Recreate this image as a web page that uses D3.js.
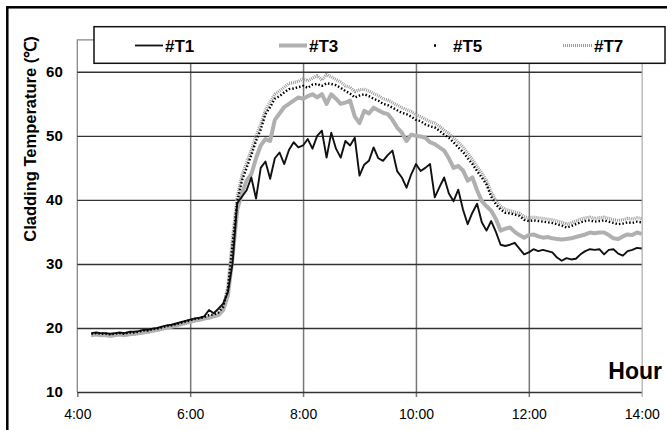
<!DOCTYPE html>
<html><head><meta charset="utf-8">
<script src="https://cdn.jsdelivr.net/npm/d3@7"></script>
<style>html,body{margin:0;padding:0;background:#fff;}svg{display:block;font-family:"Liberation Sans",Arial,sans-serif;}</style>
</head><body>
<svg id="c" width="667" height="430"></svg>
<script>
// Sampling: first reading 4:15, one reading every 5 minutes up to 14:00
const startHour = 4.25;
const stepMinutes = 5;
const seriesNames = ["#T1", "#T3", "#T5", "#T7"];
const xTicks = [4, 6, 8, 10, 12, 14];
const xTickLabels = ["4:00", "6:00", "8:00", "10:00", "12:00", "14:00"];
const yTicks = [10, 20, 30, 40, 50, 60];

const t1 = [
 19.2,19.3,19.2,19.2,19.1,19.2,19.3,19.2,19.4,
 19.4,19.5,19.7,19.7,19.9,20.0,20.2,20.4,20.5,20.7,20.9,21.1,
 21.3,21.5,21.6,21.8,22.8,22.3,23.0,23.8,25.5,30.0,39.5,40.5,
 41.5,43.5,40.2,45.0,46.0,43.3,46.5,47.4,45.6,47.8,49.0,48.2,
 48.5,49.5,48.0,50.0,50.8,46.6,50.5,48.0,46.6,49.2,48.5,49.7,
 43.8,45.5,46.1,48.2,46.5,46.1,47.0,47.7,44.5,43.5,41.9,44.0,
 45.6,44.5,45.0,45.6,40.4,42.0,43.5,41.0,39.8,41.6,38.5,36.2,
 38.0,39.4,36.5,35.2,36.7,35.0,33.0,32.8,33.0,33.3,32.4,31.5,
 31.8,32.3,32.0,32.2,32.0,31.8,31.0,30.5,30.9,30.7,30.8,31.5,
 32.0,32.3,32.2,32.3,31.5,32.2,32.3,31.6,31.3,32.0,32.2,32.5,
 32.4];
const t3 = [
 18.9,19.0,18.9,18.9,18.8,18.9,19.0,18.9,19.0,
 19.1,19.2,19.3,19.4,19.6,19.7,19.9,20.1,20.2,20.4,20.6,20.8,
 21.0,21.2,21.3,21.5,21.6,21.8,22.0,22.8,25.0,31.0,38.5,41.0,
 43.0,44.0,46.5,48.5,49.5,49.2,52.5,53.5,54.5,55.0,55.5,56.0,
 55.8,56.2,56.5,56.0,56.5,55.0,56.5,55.8,55.0,55.2,55.5,53.0,
 52.0,53.9,53.5,54.4,54.0,53.6,53.4,52.5,51.3,50.5,49.2,50.2,
 50.0,49.9,49.7,49.0,48.7,48.2,47.7,46.5,45.0,45.3,44.6,43.0,
 43.5,41.5,39.8,39.0,38.3,37.0,35.2,35.5,35.7,35.0,34.5,34.1,
 34.5,34.6,34.3,34.1,34.2,34.0,33.9,33.8,33.9,34.0,34.2,34.4,
 34.6,34.9,34.8,34.9,34.9,34.5,34.0,33.9,34.3,34.6,34.5,34.9,
 34.7];
const t5 = [
 19.1,19.2,19.1,19.1,19.0,19.1,19.2,19.1,19.3,
 19.3,19.4,19.6,19.6,19.8,19.9,20.1,20.3,20.4,20.6,20.8,21.0,
 21.2,21.4,21.5,21.7,22.0,22.1,22.4,23.3,26.0,33.0,39.8,43.0,
 45.0,47.0,49.2,51.0,53.4,54.5,55.8,56.2,56.8,57.3,57.4,57.6,
 57.8,57.5,58.0,58.1,57.8,58.2,58.1,57.9,57.5,57.0,56.6,56.0,
 56.3,56.5,56.2,55.8,55.5,55.0,54.8,54.4,54.0,53.6,53.4,53.0,
 52.5,52.3,51.8,51.5,51.3,50.8,50.2,49.7,49.0,48.2,47.5,46.5,
 45.6,44.5,43.5,42.4,40.5,39.3,38.5,38.0,37.9,37.7,37.5,36.9,
 36.7,36.8,36.7,36.6,36.5,36.4,36.2,36.0,35.7,35.9,36.2,36.5,
 36.7,36.8,36.6,36.7,36.8,36.6,36.4,36.2,36.3,36.5,36.4,36.6,
 36.5];
const t7 = [
 18.8,18.9,18.8,18.8,18.7,18.8,18.9,18.8,19.0,
 19.0,19.1,19.3,19.3,19.5,19.6,19.8,20.0,20.1,20.3,20.5,20.7,
 20.9,21.1,21.2,21.4,21.7,21.8,22.2,23.0,26.5,34.0,40.5,43.8,
 45.8,47.8,50.0,51.8,54.0,55.3,56.5,57.0,57.6,58.2,58.3,58.5,
 58.9,58.6,59.0,59.4,58.7,59.6,59.2,58.8,58.4,57.8,57.6,56.9,
 57.2,57.3,57.0,56.6,56.3,55.8,55.6,55.2,54.8,54.4,54.1,53.8,
 53.3,53.0,52.6,52.2,52.0,51.5,50.9,50.4,49.7,49.0,48.3,47.3,
 46.3,45.2,44.2,43.0,41.2,39.9,39.0,38.5,38.3,38.1,37.9,37.4,
 37.2,37.3,37.2,37.1,37.0,36.9,36.7,36.5,36.2,36.4,36.7,37.0,
 37.2,37.3,37.1,37.2,37.3,37.1,36.9,36.8,36.9,37.1,37.0,37.2,
 37.1];

const svg = d3.select("#c");
const x = d3.scaleLinear().domain([4, 14]).range([77.3, 641.7]);
const y = d3.scaleLinear().domain([10, 65]).range([392, 39.8]);
const hourAt = i => startHour + i * stepMinutes / 60;

// outer frame
svg.append("rect").attr("x", 7.3).attr("y", 7.3).attr("width", 680).attr("height", 440)
  .attr("fill", "none").attr("stroke", "#000").attr("stroke-width", 2.5);

// plot area border (left/top)
svg.append("path").attr("d", `M${x(4)},${y(10)}V${y(65)}H${x(14)}`)
  .attr("fill", "none").attr("stroke", "#888").attr("stroke-width", 1.3);

// vertical gridlines + x ticks
const xg = svg.append("g").attr("transform", `translate(0,${y(10)})`)
  .call(d3.axisBottom(x).tickValues(xTicks).tickSize(5)
    .tickFormat((d, i) => xTickLabels[i]).tickPadding(12));
xg.select(".domain").remove();
xg.selectAll(".tick line").attr("y1", (d) => d === 4 ? 0 : -(y(10) - y(65)))
  .attr("stroke", d => d === 14 ? "#bbb" : "#777").attr("stroke-width", 1.5);
xg.selectAll(".tick text").attr("font-size", 14).attr("fill", "#000")
  .attr("font-family", "'Liberation Sans', Arial, sans-serif");

// horizontal gridlines + y ticks
const yg = svg.append("g").attr("transform", `translate(${x(4)},0)`)
  .call(d3.axisLeft(y).tickValues(yTicks).tickSize(5.5).tickPadding(9));
yg.select(".domain").remove();
yg.selectAll(".tick line").attr("x2", x(14) - x(4))
  .attr("stroke", "#333").attr("stroke-width", 1.4);
yg.selectAll(".tick text").attr("font-size", 15).attr("font-weight", "bold").attr("fill", "#000")
  .attr("font-family", "'Liberation Sans', Arial, sans-serif");

// series
const line = d3.line().x((d, i) => x(hourAt(i))).y(d => y(d));
const styles = [
  {data: t7, stroke: "#9a9a9a", w: 3.2, dash: "1,1"},
  {data: t3, stroke: "#b0b0b0", w: 4, dash: null},
  {data: t1, stroke: "#111", w: 1.9, dash: null},
  {data: t5, stroke: "#000", w: 2.4, dash: "1.5,2"}
];
styles.forEach(s => {
  svg.append("path").datum(s.data).attr("d", line).attr("fill", "none")
    .attr("stroke", s.stroke).attr("stroke-width", s.w)
    .attr("stroke-dasharray", s.dash).attr("stroke-linejoin", "round");
});

// legend
svg.append("rect").attr("x", 94).attr("y", 26.7).attr("width", 571).attr("height", 36.6)
  .attr("fill", "#fff").attr("stroke", "#111").attr("stroke-width", 1.5);
const legY = 45.5;
const leg = [
  {name: seriesNames[0], x1: 135, x2: 163, tx: 165, stroke: "#111", w: 1.8, dash: null},
  {name: seriesNames[1], x1: 279, x2: 307, tx: 309, stroke: "#b0b0b0", w: 4, dash: null},
  {name: seriesNames[2], x1: 434, x2: 436, tx: 453, stroke: "#000", w: 2.4, dash: null},
  {name: seriesNames[3], x1: 563, x2: 592, tx: 594, stroke: "#9a9a9a", w: 3, dash: "1,1"}
];
leg.forEach(l => {
  svg.append("line").attr("x1", l.x1).attr("x2", l.x2).attr("y1", legY).attr("y2", legY)
    .attr("stroke", l.stroke).attr("stroke-width", l.w).attr("stroke-dasharray", l.dash);
  svg.append("text").attr("x", l.tx).attr("y", legY + 6).attr("font-size", 17)
    .attr("font-weight", "bold").text(l.name);
});

// axis titles
svg.append("text").attr("transform", "translate(36,139) rotate(-90)")
  .attr("text-anchor", "middle").attr("font-size", 16.5).attr("font-weight", "bold")
  .text("Cladding Temperature (℃)");
svg.append("text").attr("x", 662).attr("y", 379).attr("text-anchor", "end")
  .attr("font-size", 23).attr("font-weight", "bold").text("Hour");
</script>
</body></html>
